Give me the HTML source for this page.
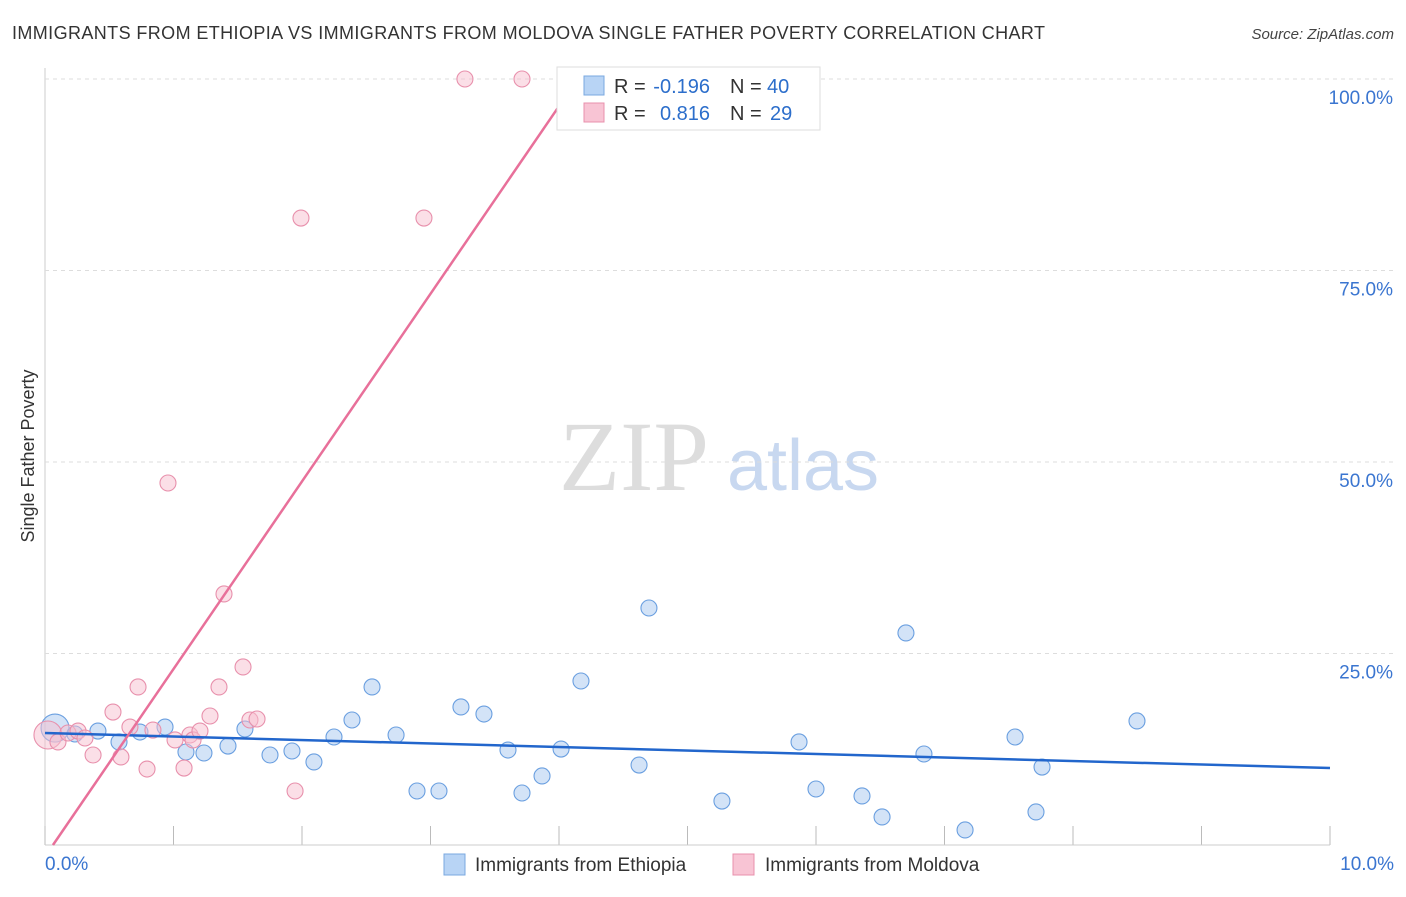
<!DOCTYPE html>
<html><head><meta charset="utf-8"><style>
body{margin:0;background:#fff;font-family:"Liberation Sans",sans-serif}
</style></head><body>
<svg id="c" width="1406" height="892" font-family="Liberation Sans, sans-serif">
<text x="12" y="39" font-size="18" fill="#333" textLength="1033">IMMIGRANTS FROM ETHIOPIA VS IMMIGRANTS FROM MOLDOVA SINGLE FATHER POVERTY CORRELATION CHART</text>
<text x="1394" y="39" font-size="15" fill="#444" font-style="italic" text-anchor="end">Source: ZipAtlas.com</text>
<text transform="translate(34,456) rotate(-90)" font-size="18" fill="#333" text-anchor="middle">Single Father Poverty</text>
<g><text x="634" y="490" font-size="100" fill="#ddd" style="font-family:'Liberation Serif',serif" text-anchor="middle">ZIP</text><text x="803" y="490" font-size="72" fill="#c8d8f0" text-anchor="middle">atlas</text></g>
<g id="grid"></g><g id="marks"></g>
<g>
<rect x="557" y="67" width="263" height="63" fill="#fff" stroke="#ddd"/>
<rect x="584" y="76" width="20" height="19" fill="#b8d4f5" stroke="#7aa8e0"/>
<text x="614" y="93" font-size="20" fill="#333">R =</text><text x="710" y="93" font-size="20" fill="#2c6ecb" text-anchor="end">-0.196</text>
<text x="730" y="93" font-size="20" fill="#333">N =</text><text x="767" y="93" font-size="20" fill="#2c6ecb">40</text>
<rect x="584" y="103" width="20" height="19" fill="#f8c4d4" stroke="#e890ac"/>
<text x="614" y="120" font-size="20" fill="#333">R =</text><text x="710" y="120" font-size="20" fill="#2c6ecb" text-anchor="end">0.816</text>
<text x="730" y="120" font-size="20" fill="#333">N =</text><text x="770" y="120" font-size="20" fill="#2c6ecb">29</text>
</g>
<g>
<rect x="444" y="854" width="21" height="21" fill="#b8d4f5" stroke="#7aa8e0"/>
<text x="475" y="871" font-size="19" fill="#333">Immigrants from Ethiopia</text>
<rect x="733" y="854" width="21" height="21" fill="#f8c4d4" stroke="#e890ac"/>
<text x="765" y="871" font-size="19" fill="#333">Immigrants from Moldova</text>
</g>
</svg>
<script>
const blueX=[0.078,0.233,0.412,0.576,0.739,0.934,1.097,1.237,1.424,1.556,1.751,1.922,2.093,2.249,2.389,2.545,2.732,2.895,3.066,3.237,3.416,3.603,3.712,3.868,4.016,4.171,4.623,4.700,5.268,5.868,6.000,6.358,6.514,6.700,6.840,7.160,7.549,7.712,7.759,8.498];
const blueY=[15.27,14.49,14.88,13.45,14.75,15.40,12.14,12.01,12.92,15.14,11.75,12.27,10.84,14.10,16.32,20.63,14.36,7.05,7.05,18.02,17.10,12.40,6.79,9.01,12.53,21.41,10.44,30.94,5.74,13.45,7.31,6.40,3.66,27.68,11.88,1.96,14.10,4.31,10.18,16.19];
const pinkX=[0.023,0.101,0.179,0.257,0.311,0.374,0.529,0.591,0.661,0.724,0.794,0.840,0.957,1.012,1.082,1.128,1.152,1.206,1.284,1.354,1.393,1.541,1.595,1.650,1.946,1.992,2.949,3.268,3.712];
const pinkY=[14.36,13.45,14.62,14.88,13.97,11.75,17.36,11.49,15.40,20.63,9.92,15.01,47.26,13.71,10.05,14.36,13.71,14.88,16.84,20.63,32.77,23.24,16.32,16.45,7.05,81.85,81.85,100,100];
const yTicks=[25,50,75,100];
const blueTrend=[[0,14.62],[10,10.05]];
const pinkTrend=[[0.062,0],[4.1,98.9]];
const X=v=>45+v*128.5, Y=v=>845-v*7.66;
const ns="http://www.w3.org/2000/svg";
function mk(p,t,a){const e=document.createElementNS(ns,t);for(const k in a)e.setAttribute(k,a[k]);p.appendChild(e);return e;}
const g=document.getElementById('grid'), m=document.getElementById('marks');
let ax=mk(g,'line',{x1:45,y1:68,x2:45,y2:845,stroke:'#ccc'});


yTicks.forEach(t=>{
 let l=mk(g,'line',{x1:45,y1:Y(t),x2:1394,y2:Y(t),stroke:'#ddd','stroke-dasharray':'4,4'});
 
 
 let tx=mk(g,'text',{x:1393,y:Y(t)+25,'font-size':19,fill:'#3a75d0','text-anchor':'end'});tx.textContent=t.toFixed(1)+'%';
 
 
});
for(let i=0;i<=10;i++){
 let l=mk(g,'line',{x1:X(i),y1:826,x2:X(i),y2:845,stroke:'#bbb'});
 
 
}
let bl=mk(g,'line',{x1:45,y1:845,x2:1330,y2:845,stroke:'#ccc'});


[[0,'0.0%','start',45],[10,'10.0%','end',1394]].forEach(a=>{let t=mk(g,'text',{x:a[3],y:870,'font-size':19,fill:'#3a75d0','text-anchor':a[2]});t.textContent=a[1];
 
 });
function pts(xs,ys,fill,stroke,name){xs.forEach((x,i)=>{const r=i==0?14:8;
 let c=mk(m,'circle',{cx:X(x),cy:Y(ys[i]),r:r,fill:fill,'fill-opacity':0.5,stroke:stroke,'stroke-width':1.1});
 
 });}
pts(blueX,blueY,'#a8c8f0','#6a9fe0','ethiopia-point');
pts(pinkX,pinkY,'#f8c0d0','#e890ac','moldova-point');
let t1=mk(m,'line',{x1:X(blueTrend[0][0]),y1:Y(blueTrend[0][1]),x2:X(blueTrend[1][0]),y2:Y(blueTrend[1][1]),stroke:'#2266cc','stroke-width':2.5});


let t2=mk(m,'line',{x1:X(pinkTrend[0][0]),y1:Y(pinkTrend[0][1]),x2:X(pinkTrend[1][0]),y2:Y(pinkTrend[1][1]),stroke:'#e8709a','stroke-width':2.5});


</script>
</body></html>
